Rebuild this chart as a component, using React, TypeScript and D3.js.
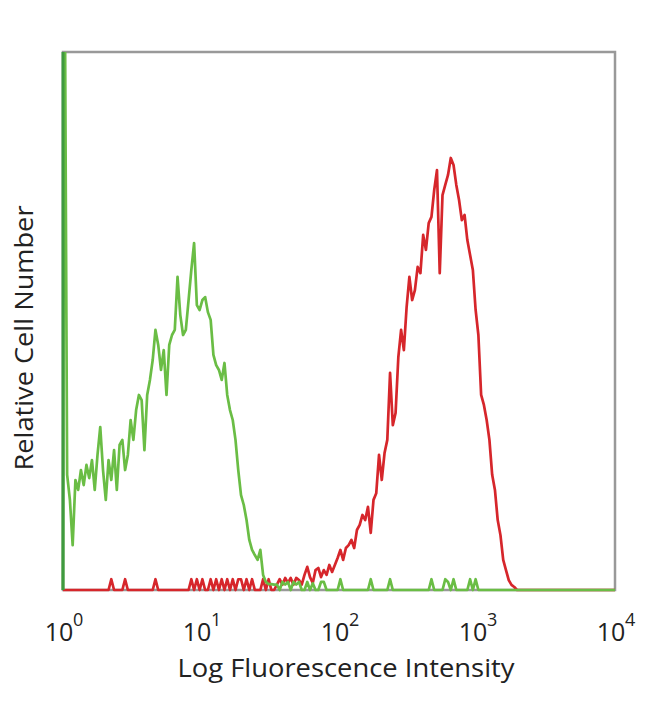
import React from "react";
import * as d3 from "d3";

// Histogram bins: 50 bins per decade, 10^0 .. 10^4 (200 bins)
const binsPerDecade = 50;
const xTicks = [1, 10, 100, 1000, 10000];
const xTickExponents = ["0", "1", "2", "3", "4"];
const xTitle = "Log Fluorescence Intensity";
const yTitle = "Relative Cell Number";

const greenCounts = [
  260, 42.8, 33.5, 16.7, 40.9, 37.2, 44.6, 39.0, 46.5, 41.6,
  48.3, 37.2, 50.2, 60.6, 44.6, 33.5, 48.3, 40.9, 52.0, 37.2,
  53.9, 55.8, 44.6, 50.2, 63.2, 55.8, 66.9, 72.5, 70.6, 52.0,
  72.5, 78.1, 85.5, 96.7, 91.1, 81.8, 89.2, 72.5, 91.1, 94.8,
  96.7, 116.4, 102.2, 94.8, 96.7, 107.8, 119.0, 129.0, 105.9, 104.1,
  107.8, 108.9, 103.3, 100.4, 87.4, 83.6, 81.8, 78.1, 84.4, 72.5,
  66.9, 63.2, 55.8, 44.6, 35.3, 31.6, 26.0, 18.6, 14.9, 13.0,
  11.2, 14.9, 5.6, 3.0, 2.2, 2.2, 2, 2, 0, 3,
  2, 3, 0, 3, 2, 3, 0, 0, 3, 0,
  2.5, 0, 0, 3, 3, 0, 0, 0, 0, 0,
  4, 0, 0, 0, 0, 0, 0, 0, 0, 0,
  0, 4, 0, 0, 0, 0, 0, 0, 4, 0,
  0, 0, 0, 0, 0, 0, 0, 0, 0, 0,
  0, 0, 0, 4, 0, 0, 0, 0, 4, 3,
  0, 4, 0, 0, 0, 0, 0, 4, 0, 4,
  0, 0, 0, 0, 0, 0, 0, 0, 0, 0,
  0, 0, 0, 0, 0, 0, 0, 0, 0, 0,
  0, 0, 0, 0, 0, 0, 0, 0, 0, 0,
  0, 0, 0, 0, 0, 0, 0, 0, 0, 0,
  0, 0, 0, 0, 0, 0, 0, 0, 0, 0,
];

const redCounts = [
  0, 0, 0, 0, 0, 0, 0, 0, 0, 0,
  0, 0, 0, 0, 0, 0, 0, 4, 0, 0,
  0, 0, 4, 0, 0, 0, 0, 0, 0, 0,
  0, 0, 0, 4, 0, 0, 0, 0, 0, 0,
  0, 0, 0, 0, 0, 0, 4, 0, 4, 0,
  4, 0, 0, 4, 0, 4, 0, 4, 0, 4,
  0, 4, 0, 4, 4, 0, 4, 0, 4, 0,
  0, 0, 4, 0, 4, 0, 0, 2, 4, 2,
  4.5, 2.6, 4.5, 2, 4.5, 3.7, 2, 5.6, 8.6, 4.8,
  2.6, 7.4, 8.2, 4.8, 7.4, 5.6, 9.3, 6.7, 9.3, 11.9,
  14.9, 11.2, 15.6, 16.7, 18.6, 15.6, 22.3, 24.2, 27.9, 26,
  30.9, 21.2, 33.5, 36, 50.2, 40.9, 50.9, 55.8, 80.7, 61.3,
  65.8, 86.6, 96.7, 89.2, 105.2, 116.4, 107.8, 111.5, 120.1, 117.8,
  132, 126.4, 136.4, 138.7, 148.7, 156.1, 117.8, 146.8, 150.6, 154.3,
  160.6, 158, 150.6, 145, 137.5, 139.4, 130.1, 124.5, 119, 104.1,
  94.8, 72.5, 68.8, 63.2, 55.8, 42.8, 37.2, 26, 20.4, 11.2,
  7.4, 3.7, 1.9, 1.1, 0, 0, 0, 0, 0, 0,
  0, 0, 0, 0, 0, 0, 0, 0, 0, 0,
  0, 0, 0, 0, 0, 0, 0, 0, 0, 0,
  0, 0, 0, 0, 0, 0, 0, 0, 0, 0,
];

const W = 650;
const H = 704;
const left = 63;
const right = 615;
const top = 52;
const bottom = 590;

const FONT = "'Open Sans', 'DejaVu Sans', sans-serif";

export default function App() {
  const x = d3.scaleLog().domain([1, 1e4]).range([left, right]);
  const y = d3.scaleLinear().domain([0, 200]).range([bottom, top]);

  const makePath = (counts: number[]) => {
    const pts: [number, number][] = [[x(1), y(0)]];
    counts.forEach((c, i) => {
      const center = Math.pow(10, (i + 0.5) / binsPerDecade);
      pts.push([x(center), y(c)]);
    });
    pts.push([x(1e4), y(0)]);
    return d3.line().curve(d3.curveLinear)(pts) || "";
  };

  const redPath = makePath(redCounts);
  const greenPath = makePath(greenCounts);

  return (
    <svg width={W} height={H} style={{ display: "block", position: "absolute", left: 0, top: 0 }}>
      <rect x={0} y={0} width={W} height={H} fill="#ffffff" />
      <defs>
        <clipPath id="plotClip">
          <rect x={left - 2} y={top} width={right - left + 4} height={bottom - top + 3} />
        </clipPath>
      </defs>
      {/* frame */}
      <rect
        x={left}
        y={top}
        width={right - left}
        height={bottom - top}
        fill="none"
        stroke="#999999"
        strokeWidth={2.5}
      />
      <g clipPath="url(#plotClip)">
        <path d={redPath} fill="none" stroke="#d6262b" strokeWidth={2.7} strokeLinejoin="round" />
        <path d={greenPath} fill="none" stroke="#6abd45" strokeWidth={2.7} strokeLinejoin="round" />
      </g>
      <line x1={left} x2={left} y1={top} y2={bottom} stroke="#3f9a3f" strokeWidth={3} />
      {/* x tick labels */}
      {xTicks.map((t, i) => (
        <g key={t}>
          <text x={x(t) - 4} y={641} textAnchor="middle" fontFamily={FONT} fontSize={25} fill="#222">
            10
          </text>
          <text x={x(t) + 10} y={626} textAnchor="start" fontFamily={FONT} fontSize={18} fill="#222">
            {xTickExponents[i]}
          </text>
        </g>
      ))}
      <text
        x={346}
        y={677}
        textAnchor="middle"
        fontFamily={FONT}
        fontSize={25}
        textLength={337}
        lengthAdjust="spacingAndGlyphs"
        fill="#222"
      >
        {xTitle}
      </text>
      <text
        transform={`translate(33, 338) rotate(-90)`}
        textAnchor="middle"
        fontFamily={FONT}
        fontSize={25}
        textLength={265}
        lengthAdjust="spacingAndGlyphs"
        fill="#222"
      >
        {yTitle}
      </text>
    </svg>
  );
}
